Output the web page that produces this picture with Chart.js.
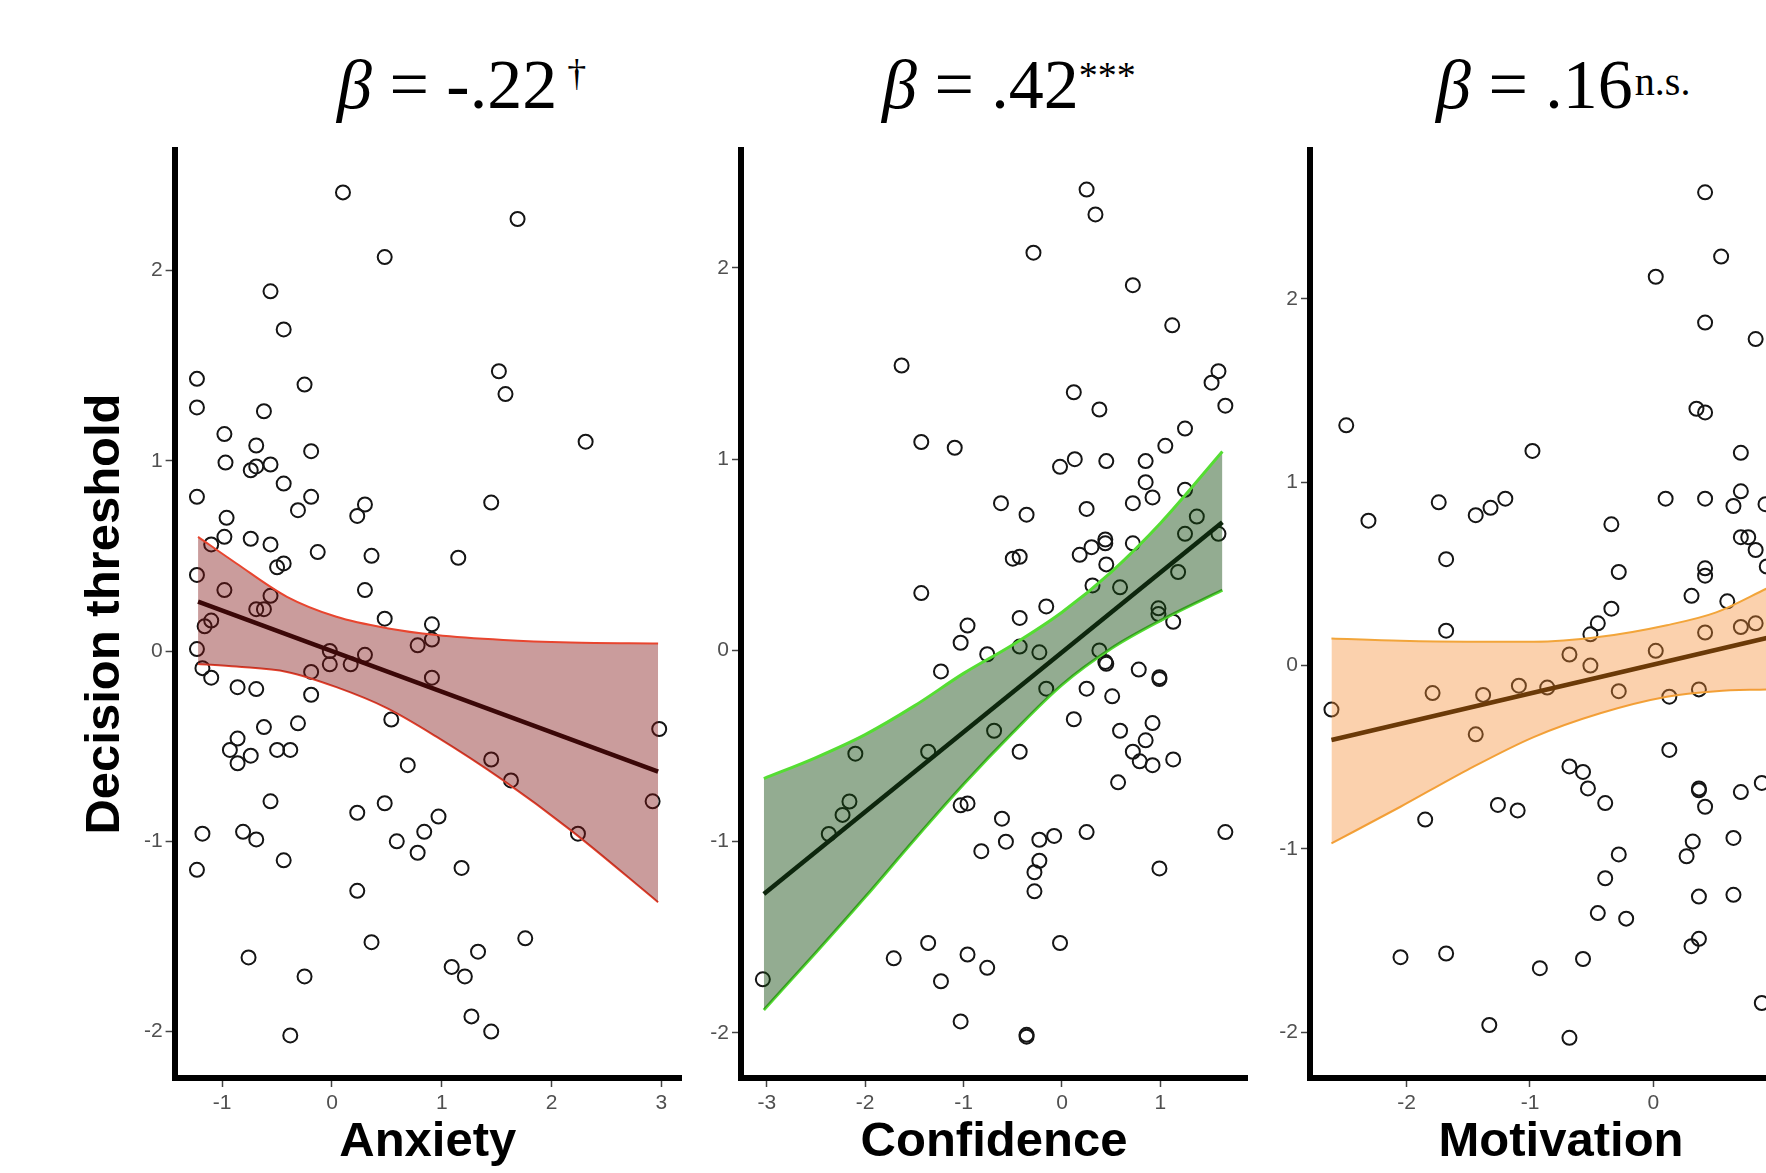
<!DOCTYPE html>
<html>
<head>
<meta charset="utf-8">
<title>Decision threshold</title>
<script src="https://cdn.jsdelivr.net/npm/chart.js@4.4.0/dist/chart.umd.min.js"></script>
<style>
  html, body { margin: 0; padding: 0; background: #fff; overflow: hidden; }
  body { width: 1766px; height: 1173px; position: relative; }
  canvas { position: absolute; top: 0; }
  .beta {
    position: absolute; top: 50px;
    font-family: 'Liberation Serif', 'Times New Roman', serif;
    font-size: 70px; line-height: 70px; color: #000; white-space: nowrap;
  }
  .beta .sup { position: relative; }
</style>
</head>
<body>
<div class="beta" style="left:337px"><i>β</i> = -.22<span class="sup" style="font-size:38px;top:-22px;margin-left:10px">†</span></div>
<div class="beta" style="left:882px"><i>β</i> = .42<span class="sup" style="font-size:38px;top:-20px">***</span></div>
<div class="beta" style="left:1436px"><i>β</i> = .16<span class="sup" style="font-size:40px;top:-13px;margin-left:2px">n.s.</span></div>

<canvas id="anxietyChart" width="720" height="1173" style="left:0px"></canvas>
<canvas id="confidenceChart" width="600" height="1173" style="left:680px"></canvas>
<canvas id="motivationChart" width="600" height="1173" style="left:1250px"></canvas>

<script>
// tick labels
const yTicks = [-2, -1, 0, 1, 2];
const anxietyTicks = [-1, 0, 1, 2, 3];
const confidenceTicks = [-3, -2, -1, 0, 1];
const motivationTicks = [-2, -1, 0, 1];

// Anxiety panel
const anxietyX = [0.10, 1.69, 0.48, -0.56, -0.44, -1.23, 1.52, 1.58, -0.25, -1.23,
  -0.62, -0.98, 2.31, -0.69, -0.19, -0.97, -0.74, -0.69, -0.56, -0.44,
  -1.23, -0.19, -0.31, 0.30, 0.23, 1.45, -0.96, -0.98, -0.74, -1.10,
  -0.56, -0.13, 0.36, 1.15, -0.44, -0.50, -1.23, 0.30, -0.98, -0.56,
  -0.69, -0.62, -1.10, -1.16, 0.48, 0.91, 0.78, 0.91, -1.23,
  -0.02, 0.30, -0.02, 0.17, -0.19, -1.18, -1.10, 0.91, -0.86, -0.69,
  -0.19, 0.54, -0.31, -0.62, 2.98, -0.86, -0.93, -0.74, -0.86, -0.50,
  -0.38, 1.45, 0.69, 1.63, -0.56, 0.48, 2.92, 0.23, 0.97, -1.18,
  -0.81, -0.69, 2.24, 0.84, 0.59, 0.78, -0.44, -1.23, 1.18, 0.23,
  0.36, 1.76, -0.76, 1.33, 1.09, 1.21, -0.25, 1.27, 1.45, -0.38];
const anxietyY = [2.41, 2.27, 2.07, 1.89, 1.69, 1.43, 1.47, 1.35, 1.40, 1.28,
  1.26, 1.14, 1.10, 1.08, 1.05, 0.99, 0.95, 0.97, 0.98, 0.88,
  0.81, 0.81, 0.74, 0.77, 0.71, 0.78, 0.70, 0.60, 0.59, 0.56,
  0.56, 0.52, 0.50, 0.49, 0.46, 0.44, 0.40, 0.32, 0.32, 0.29,
  0.22, 0.22, 0.16, 0.13, 0.17, 0.14, 0.03, 0.06, 0.01,
  0.00, -0.02, -0.07, -0.07, -0.11, -0.09, -0.14, -0.14, -0.19, -0.20,
  -0.23, -0.36, -0.38, -0.40, -0.41, -0.46, -0.52, -0.55, -0.59, -0.52,
  -0.52, -0.57, -0.60, -0.68, -0.79, -0.80, -0.79, -0.85, -0.87, -0.96,
  -0.95, -0.99, -0.96, -0.95, -1.00, -1.06, -1.10, -1.15, -1.14, -1.26,
  -1.53, -1.51, -1.61, -1.58, -1.66, -1.71, -1.71, -1.92, -2.00, -2.02];
const anxietyBandX = [-1.22, -0.87, -0.41, 0.04, 0.50, 0.95, 1.56, 2.17, 2.97];
const anxietyUpper = [0.60, 0.46, 0.285, 0.18, 0.12, 0.084, 0.058, 0.045, 0.04];
const anxietyLower = [-0.068, -0.082, -0.11, -0.19, -0.30, -0.45, -0.68, -0.94, -1.32];
const anxietyFitX = [-1.22, 2.97];
const anxietyFitY = [0.26, -0.634];

// Confidence panel
const confidenceX = [0.25, 0.34, -0.29, 0.72, 1.12, -1.63, 1.59, 1.52, 0.12, 0.38,
  1.66, 1.25, -1.43, -1.09, 1.05, -0.02, 0.13, 0.45, 0.85, 0.85,
  0.92, 0.72, 1.25, -0.62, -0.36, 0.25, 1.37, 1.25, 1.59, -0.50,
  -0.43, 0.18, 0.30, 0.44, 0.44, 0.72, 0.45, -1.43, 0.31, 0.59,
  1.18, -0.16, -0.43, -0.96, 0.98, 0.98, 1.13, -1.03, -0.76, -0.43,
  -0.23, 0.38,
  0.44, 0.45, -1.23, 0.78, 0.99, 0.99, -0.16, 0.25, 0.51, 0.12,
  0.92, -0.69, 0.59, 0.85, -2.10, -1.36, -0.43, 0.72, 0.79, 0.92,
  1.13, 0.57, -2.16, -2.23, -2.37, -1.03, -0.96, -0.61, -0.57, -0.82,
  -0.23, -0.08, 0.25, 1.66, -0.23, -0.28, -0.28, 0.99, -1.36, -0.02,
  -1.71, -0.96, -0.76, -1.23, -3.04, -1.03, -0.36, -0.36];
const confidenceY = [2.41, 2.28, 2.08, 1.91, 1.70, 1.49, 1.46, 1.40, 1.35, 1.26,
  1.28, 1.16, 1.09, 1.06, 1.07, 0.96, 1.00, 0.99, 0.99, 0.88,
  0.80, 0.77, 0.84, 0.77, 0.71, 0.74, 0.70, 0.61, 0.61, 0.48,
  0.49, 0.50, 0.54, 0.58, 0.56, 0.56, 0.45, 0.30, 0.34, 0.33,
  0.41, 0.23, 0.17, 0.13, 0.22, 0.19, 0.15, 0.04, -0.02, 0.02,
  -0.01, 0.00,
  -0.06, -0.07, -0.11, -0.10, -0.14, -0.15, -0.20, -0.20, -0.24, -0.36,
  -0.38, -0.42, -0.42, -0.47, -0.54, -0.53, -0.53, -0.53, -0.58, -0.60,
  -0.57, -0.69, -0.79, -0.86, -0.96, -0.81, -0.80, -0.88, -1.00, -1.05,
  -0.99, -0.97, -0.95, -0.95, -1.10, -1.16, -1.26, -1.14, -1.53, -1.53,
  -1.61, -1.59, -1.66, -1.73, -1.72, -1.94, -2.01, -2.02];
const confidenceBandX = [-3.03, -2.5, -2.0, -1.5, -1.0, -0.5, 0.0, 0.5, 1.0, 1.63];
const confidenceUpper = [-0.67, -0.56, -0.44, -0.29, -0.12, 0.03, 0.20, 0.41, 0.665, 1.04];
const confidenceLower = [-1.88, -1.58, -1.29, -0.99, -0.70, -0.43, -0.18, 0.01, 0.156, 0.315];
const confidenceFitX = [-3.03, 1.63];
const confidenceFitY = [-1.274, 0.67];

// Motivation panel
const motivationX = [0.42, 0.55, 0.02, 0.42, 0.83, -2.49, 0.35, 0.42, -0.98, 0.71,
  -2.31, -1.74, -1.44, -1.32, -1.20, 0.10, 0.42, 0.71, 0.65, 0.91,
  -0.34, -1.68, 0.71, 0.77, 0.83, 0.92, -0.28, 0.42, 0.42, 0.31,
  0.60, -0.34, -0.45, -0.51, -1.68, 0.42, 0.71, 0.83, 0.02, -0.68,
  -0.51, -2.61, -1.79, -1.38, -1.09, -0.86, -0.28, 0.13, 0.37, -1.44,
  0.13, -0.68, -0.57, -0.53, -0.39, 0.37, 0.37, 0.42, 0.71, 0.88,
  -1.26, -1.10, -1.85, -0.28, 0.32, 0.27, 0.65, -0.39, 0.37, 0.65,
  -0.45, -0.22, 0.37, 0.31, -2.05, -1.68, -0.57, -0.92, -1.33, -0.68,
  0.88];
const motivationY = [2.58, 2.23, 2.12, 1.87, 1.78, 1.31, 1.40, 1.38, 1.17, 1.16,
  0.79, 0.89, 0.82, 0.86, 0.91, 0.91, 0.91, 0.95, 0.87, 0.88,
  0.77, 0.58, 0.70, 0.70, 0.63, 0.54, 0.51, 0.53, 0.49, 0.38,
  0.35, 0.31, 0.23, 0.17, 0.19, 0.18, 0.21, 0.23, 0.08, 0.06,
  0.00, -0.24, -0.15, -0.16, -0.11, -0.12, -0.14, -0.17, -0.13, -0.375,
  -0.46, -0.55, -0.58, -0.67, -0.75, -0.67, -0.68, -0.77, -0.69, -0.64,
  -0.76, -0.79, -0.84, -1.03, -0.96, -1.04, -0.94, -1.16, -1.26, -1.25,
  -1.35, -1.38, -1.49, -1.53, -1.59, -1.57, -1.60, -1.65, -1.96, -2.03,
  -1.84];
const motivationBandX = [-2.61, -2.05, -1.51, -0.97, -0.43, 0.11, 0.51, 0.92];
const motivationUpper = [0.148, 0.135, 0.13, 0.13, 0.157, 0.22, 0.29, 0.42];
const motivationLower = [-0.97, -0.77, -0.57, -0.39, -0.26, -0.17, -0.14, -0.13];
const motivationFitX = [-2.61, 0.92];
const motivationFitY = [-0.406, 0.15];

Chart.defaults.font.family = "'Liberation Sans', Arial, sans-serif";

const toXY = (xs, ys) => xs.map((x, i) => ({ x: x, y: ys[i] }));

const axisFont = { family: "'Liberation Sans', Arial, sans-serif", size: 49, weight: 'bold' };
const tickFont = { family: "'Liberation Sans', Arial, sans-serif", size: 21 };

const printPanel = (id, p) => {
  const ctx = document.getElementById(id).getContext('2d');
  return new Chart(ctx, {
    type: 'scatter',
    data: {
      datasets: [
        {
          type: 'line',
          data: toXY(p.bandX, p.upper),
          borderColor: p.edge,
          borderWidth: p.edgeWidth,
          backgroundColor: p.fill,
          fill: '+1',
          pointRadius: 0,
          cubicInterpolationMode: 'monotone',
          order: 2
        },
        {
          type: 'line',
          data: toXY(p.bandX, p.lower),
          borderColor: p.edge,
          borderWidth: p.edgeWidth,
          fill: false,
          pointRadius: 0,
          cubicInterpolationMode: 'monotone',
          order: 2
        },
        {
          type: 'line',
          data: toXY(p.fitX, p.fitY),
          borderColor: p.lineColor,
          borderWidth: 4.5,
          fill: false,
          pointRadius: 0,
          order: 1
        },
        {
          data: toXY(p.x, p.y),
          pointRadius: 7,
          pointHoverRadius: 7,
          borderWidth: 2,
          borderColor: '#151515',
          backgroundColor: 'rgba(0,0,0,0)',
          order: 3
        }
      ]
    },
    options: {
      responsive: false,
      animation: false,
      devicePixelRatio: 1,
      layout: { padding: p.padding },
      plugins: { legend: { display: false }, tooltip: { enabled: false } },
      scales: {
        x: {
          type: 'linear',
          bounds: 'data',
          min: p.xMin,
          max: p.xMax,
          afterBuildTicks: s => { s.ticks = p.xTicks.map(v => ({ value: v })); },
          afterFit: s => { s.height = 94; },
          grid: { drawOnChartArea: false, drawTicks: true, tickLength: 9, tickColor: '#444', tickWidth: 1.5 },
          border: { display: true, color: '#000', width: 6 },
          ticks: { color: '#505050', font: tickFont, padding: 4, maxRotation: 0, autoSkip: false, callback: v => String(v) },
          title: { display: true, text: p.xTitle, color: '#000', font: axisFont, padding: 0 }
        },
        y: {
          type: 'linear',
          bounds: 'data',
          min: p.yMin,
          max: p.yMax,
          afterBuildTicks: s => { s.ticks = yTicks.map(v => ({ value: v })); },
          afterFit: s => { s.width = p.yWidth; },
          grid: { drawOnChartArea: false, drawTicks: true, tickLength: 9, tickColor: '#444', tickWidth: 1.5 },
          border: { display: true, color: '#000', width: 6 },
          ticks: { color: '#505050', font: tickFont, padding: 3, autoSkip: false, callback: v => String(v) },
          title: { display: !!p.yTitle, text: p.yTitle || '', color: '#000', font: axisFont, padding: 0 }
        }
      }
    }
  });
};

printPanel('anxietyChart', {
  x: anxietyX, y: anxietyY,
  bandX: anxietyBandX, upper: anxietyUpper, lower: anxietyLower,
  fitX: anxietyFitX, fitY: anxietyFitY,
  fill: 'rgba(128, 20, 20, 0.42)', edge: '#e8452f', edgeWidth: 2, lineColor: '#3b0808',
  xMin: -1.4335, xMax: 3.1785, yMin: -2.2438, yMax: 2.6327,
  xTicks: anxietyTicks, xTitle: 'Anxiety', yTitle: 'Decision threshold',
  yWidth: 99,
  padding: { left: 75.6, top: 150, right: 39, bottom: 1 }
});

printPanel('confidenceChart', {
  x: confidenceX, y: confidenceY,
  bandX: confidenceBandX, upper: confidenceUpper, lower: confidenceLower,
  fitX: confidenceFitX, fitY: confidenceFitY,
  fill: 'rgba(20, 75, 15, 0.46)', edge: '#55dd33', edgeWidth: 3, lineColor: '#0d260d',
  xMin: -3.262, xMax: 1.88, yMin: -2.236, yMax: 2.617,
  xTicks: confidenceTicks, xTitle: 'Confidence',
  yWidth: 40,
  padding: { left: 21, top: 150, right: 33, bottom: 1 }
});

printPanel('motivationChart', {
  x: motivationX, y: motivationY,
  bandX: motivationBandX, upper: motivationUpper, lower: motivationLower,
  fitX: motivationFitX, fitY: motivationFitY,
  fill: 'rgba(245, 140, 50, 0.4)', edge: '#f2a53a', edgeWidth: 2, lineColor: '#6b3a08',
  xMin: -2.784, xMax: 1.287, yMin: -2.249, yMax: 2.811,
  xTicks: motivationTicks, xTitle: 'Motivation',
  yWidth: 40,
  padding: { left: 20, top: 150, right: 38, bottom: 1 }
});
</script>
</body>
</html>
